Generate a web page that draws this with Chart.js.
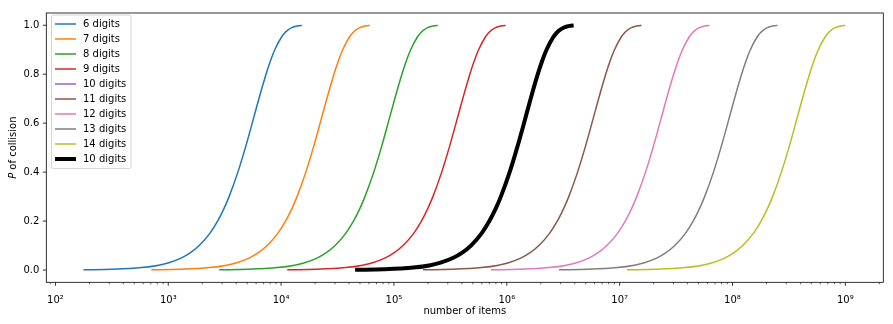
<!DOCTYPE html>
<html>
<head>
<meta charset="utf-8">
<script src="https://cdn.jsdelivr.net/npm/chart.js@4.4.1/dist/chart.umd.min.js"></script>
<style>
  body { margin: 0; background: #fff; }
  #wrap { width: 893px; height: 324px; }
</style>
</head>
<body>
<div id="wrap"><canvas id="myChart" width="893" height="324"></canvas></div>
<script>
// collision probability levels (y) and number of items (x)
const pLevels = [0.001, 0.003, 0.01, 0.02, 0.03, 0.05, 0.07, 0.1, 0.15, 0.2, 0.25, 0.3, 0.4, 0.5, 0.6, 0.7, 0.8, 0.85, 0.9, 0.95, 0.97, 0.98, 0.99, 0.995, 0.998, 0.999]

const items6  = [177, 318, 581, 823, 1011, 1312, 1561, 1880, 2335, 2736, 3107, 3459, 4140, 4823, 5545, 6356, 7349, 7978, 8790, 10030, 10850, 11460, 12430, 13330, 14440, 15260]
const items7  = [708, 1270, 2324, 3294, 4044, 5248, 6242, 7520, 9341, 10940, 12430, 13840, 16560, 19290, 22180, 25420, 29400, 31910, 35160, 40100, 43390, 45830, 49720, 53330, 57760, 61040]
const items8  = [2832, 5080, 9296, 13170, 16180, 20990, 24970, 30080, 37360, 43780, 49710, 55340, 66240, 77170, 88720, 101700, 117600, 127700, 140600, 160400, 173600, 183300, 198900, 213300, 231000, 244100]
const items9  = [11330, 20320, 37180, 52700, 64700, 83970, 99870, 120300, 149500, 175100, 198800, 221400, 265000, 308700, 354900, 406800, 470300, 510600, 562600, 641700, 694200, 733200, 795600, 853300, 924200, 976600]
const items10 = [45310, 81280, 148700, 210800, 258800, 335900, 399500, 481300, 597800, 700400, 795400, 885500, 1060000, 1235000, 1420000, 1627000, 1881000, 2042000, 2250000, 2567000, 2777000, 2933000, 3182000, 3413000, 3697000, 3906000]
const items11 = [181200, 325100, 594900, 843200, 1035000, 1343000, 1598000, 1925000, 2391000, 2802000, 3181000, 3542000, 4239000, 4939000, 5678000, 6509000, 7525000, 8170000, 9001000, 10270000, 11110000, 11730000, 12730000, 13650000, 14790000, 15630000]
const items12 = [725000, 1300000, 2380000, 3373000, 4141000, 5374000, 6392000, 7700000, 9565000, 11210000, 12730000, 14170000, 16960000, 19760000, 22710000, 26030000, 30100000, 32680000, 36000000, 41070000, 44430000, 46930000, 50920000, 54610000, 59150000, 62500000]
const items13 = [2.9e6, 5.202e6, 9.519e6, 1.349e7, 1.656e7, 2.15e7, 2.557e7, 3.08e7, 3.826e7, 4.483e7, 5.09e7, 5.667e7, 6.783e7, 7.902e7, 9.085e7, 1.041e8, 1.204e8, 1.307e8, 1.44e8, 1.643e8, 1.777e8, 1.877e8, 2.037e8, 2.184e8, 2.366e8, 2.5e8]
const items14 = [1.16e7, 2.081e7, 3.808e7, 5.396e7, 6.626e7, 8.598e7, 1.023e8, 1.232e8, 1.53e8, 1.793e8, 2.036e8, 2.267e8, 2.713e8, 3.161e8, 3.634e8, 4.165e8, 4.816e8, 5.229e8, 5.761e8, 6.571e8, 7.109e8, 7.508e8, 8.147e8, 8.738e8, 9.463e8, 1e9]

const seriesNames = ['6 digits', '7 digits', '8 digits', '9 digits', '10 digits', '11 digits', '12 digits', '13 digits', '14 digits', '10 digits']
const seriesItems = [items6, items7, items8, items9, items10, items11, items12, items13, items14, items10]
const seriesColors = ['#1f77b4', '#ff7f0e', '#2ca02c', '#d62728', '#9467bd', '#8c564b', '#e377c2', '#7f7f7f', '#bcbd22', '#000000']
const seriesWidths = [1.5, 1.5, 1.5, 1.5, 1.5, 1.5, 1.5, 1.5, 1.5, 4]

const xTicks = [1e2, 1e3, 1e4, 1e5, 1e6, 1e7, 1e8, 1e9]
const yTicks = [0, 0.2, 0.4, 0.6, 0.8, 1.0]

const sup = {'0':'⁰','1':'¹','2':'²','3':'³','4':'⁴','5':'⁵','6':'⁶','7':'⁷','8':'⁸','9':'⁹'}
function powLabel(v) {
    const e = String(Math.round(Math.log10(v)))
    return '10' + e.split('').map(c => sup[c]).join('')
}

const datasets = seriesNames.map((name, i) => ({
    label: name,
    data: seriesItems[i].map((x, k) => ({x: x, y: pLevels[k]})),
    borderColor: seriesColors[i],
    backgroundColor: seriesColors[i],
    borderWidth: seriesWidths[i],
    pointRadius: 0,
    fill: false,
    cubicInterpolationMode: 'monotone',
    order: 10 - i
}))

// frame, tick marks, axis titles and legend in matplotlib style
const decor = {
    id: 'decor',
    afterDraw(chart) {
        const ctx = chart.ctx
        const a = chart.chartArea
        const xs = chart.scales.x, ys = chart.scales.y
        ctx.save()
        ctx.strokeStyle = '#000'
        ctx.lineWidth = 0.8
        ctx.strokeRect(a.left, a.top, a.right - a.left, a.bottom - a.top)

        // x ticks, major and minor
        for (let e = 1; e <= 9; e++) {
            for (let k = 1; k <= 9; k++) {
                const v = k * Math.pow(10, e)
                if (v < xs.min || v > xs.max) continue
                const px = xs.getPixelForValue(v)
                ctx.beginPath()
                ctx.lineWidth = k === 1 ? 0.8 : 0.6
                ctx.moveTo(px, a.bottom)
                ctx.lineTo(px, a.bottom + (k === 1 ? 3.5 : 2))
                ctx.stroke()
            }
        }
        // y ticks
        ctx.lineWidth = 0.8
        yTicks.forEach(v => {
            const py = ys.getPixelForValue(v)
            ctx.beginPath()
            ctx.moveTo(a.left, py)
            ctx.lineTo(a.left - 3.5, py)
            ctx.stroke()
        })

        // axis titles
        ctx.fillStyle = '#000'
        ctx.font = '10px "DejaVu Sans"'
        ctx.textAlign = 'center'
        ctx.textBaseline = 'middle'
        ctx.fillText('number of items', (a.left + a.right) / 2, 311)

        ctx.save()
        ctx.translate(13, (a.top + a.bottom) / 2)
        ctx.rotate(-Math.PI / 2)
        ctx.textAlign = 'left'
        const w1 = ctx.measureText(' of collision').width
        ctx.font = 'italic 10px "DejaVu Sans"'
        const w0 = ctx.measureText('P').width
        const start = -(w0 + w1) / 2
        ctx.fillText('P', start, 0)
        ctx.font = '10px "DejaVu Sans"'
        ctx.fillText(' of collision', start + w0, 0)
        ctx.restore()

        // legend
        const lx = 51.5, ly = 15, lw = 79.5, lh = 153.5
        ctx.beginPath()
        ctx.roundRect(lx, ly, lw, lh, 2)
        ctx.fillStyle = 'rgba(255,255,255,0.8)'
        ctx.fill()
        ctx.strokeStyle = '#cccccc'
        ctx.lineWidth = 0.8
        ctx.stroke()
        ctx.textAlign = 'left'
        ctx.textBaseline = 'middle'
        seriesNames.forEach((name, i) => {
            const cy = 24 + i * 15
            ctx.beginPath()
            ctx.strokeStyle = seriesColors[i]
            ctx.lineWidth = seriesWidths[i]
            ctx.moveTo(55, cy)
            ctx.lineTo(76, cy)
            ctx.stroke()
            ctx.fillStyle = '#000'
            ctx.fillText(name, 83, cy)
        })
        ctx.restore()
    }
}

Chart.defaults.font.family = '"DejaVu Sans"'
Chart.defaults.font.size = 10
Chart.defaults.color = '#000'

const ctx = document.getElementById('myChart').getContext('2d')
const myChart = new Chart(ctx, {
    type: 'line',
    data: { datasets: datasets },
    options: {
        responsive: false,
        animation: false,
        layout: { padding: { left: 0, right: 9.7, top: 10.3, bottom: 0 } },
        plugins: { legend: { display: false }, tooltip: { enabled: false } },
        scales: {
            x: {
                type: 'logarithmic',
                min: 83,
                max: 2.17e9,
                grid: { display: false, drawTicks: false },
                border: { display: false },
                afterBuildTicks: s => { s.ticks = xTicks.map(v => ({value: v})) },
                afterFit: s => { s.height = 41.7 },
                ticks: {
                    autoSkip: false,
                    maxRotation: 0,
                    padding: 12,
                    callback: v => powLabel(v)
                }
            },
            y: {
                type: 'linear',
                min: -0.05,
                max: 1.05,
                grid: { display: false, drawTicks: false },
                border: { display: false },
                afterBuildTicks: s => { s.ticks = yTicks.map(v => ({value: v})) },
                afterFit: s => { s.width = 46.3 },
                ticks: {
                    padding: 7,
                    callback: v => v.toFixed(1)
                }
            }
        }
    },
    plugins: [decor]
})
</script>
</body>
</html>
